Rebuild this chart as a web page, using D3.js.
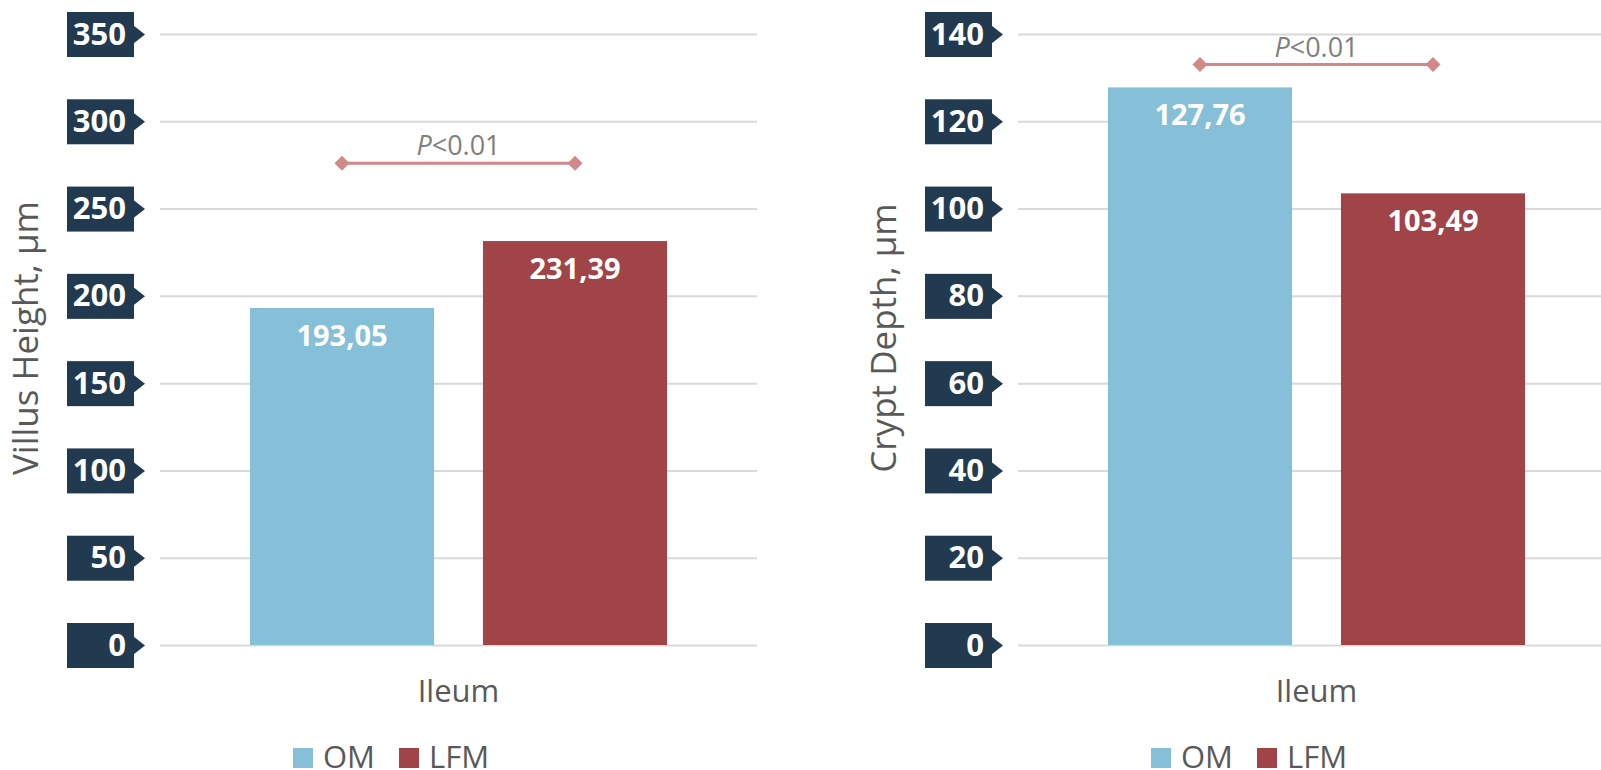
<!DOCTYPE html>
<html>
<head>
<meta charset="utf-8">
<script src="https://cdn.jsdelivr.net/npm/d3@7"></script>
<style>
  body { margin: 0; background: #fff; }
  svg { display: block; font-family: "Open Sans", "Noto Sans", sans-serif; }
</style>
</head>
<body>
<svg id="chart" width="1601" height="770"></svg>
<script>
// data
var series = ["OM", "LFM"];
var seriesColors = ["#85bfd8", "#a04448"];
var category = "Ileum";
var villusValues = [193.05, 231.39];
var villusLabels = ["193,05", "231,39"];
var villusTicks = [0, 50, 100, 150, 200, 250, 300, 350];
var cryptValues = [127.76, 103.49];
var cryptLabels = ["127,76", "103,49"];
var cryptTicks = [0, 20, 40, 60, 80, 100, 120, 140];
var pText = "<0.01";
var villusBracketAt = 276;
var cryptBracketAt = 133;

var svg = d3.select("#chart");

drawPanel(0, "Villus Height, µm", villusValues, villusLabels, villusTicks, villusBracketAt);
drawPanel(858, "Crypt Depth, µm", cryptValues, cryptLabels, cryptTicks, cryptBracketAt);

function drawPanel(offsetX, title, values, labels, ticks, bracketAt) {
    var plotLeft = 160, plotRight = 757, yTop = 34, yBottom = 645;
    var g = svg.append("g").attr("transform", "translate(" + offsetX + ",0)");

    var y = d3.scaleLinear()
        .domain([0, d3.max(ticks)])
        .range([yBottom, yTop]);
    var x = d3.scaleBand()
        .domain(series)
        .range([plotLeft, plotRight])
        .paddingInner(0.21)
        .paddingOuter(0.386);

    // gridlines
    var grid = g.append("g")
        .attr("transform", "translate(" + plotLeft + ",0)")
        .call(d3.axisLeft(y).tickValues(ticks).tickSize(-(plotRight - plotLeft)).tickFormat(""));
    grid.select(".domain").remove();
    grid.selectAll("line").attr("stroke", "#d9d9d9").attr("stroke-width", 2);

    // tick labels in dark boxes
    var axis = g.append("g")
        .attr("transform", "translate(" + plotLeft + ",0)")
        .call(d3.axisLeft(y).tickValues(ticks).tickSize(0).tickFormat(d3.format("d")));
    axis.select(".domain").remove();
    axis.selectAll(".tick").each(function () {
        var t = d3.select(this);
        t.insert("rect", "text")
            .attr("x", -93).attr("y", -22.5)
            .attr("width", 67).attr("height", 45)
            .attr("fill", "#213a4f");
        t.insert("path", "text")
            .attr("d", "M-26.5,-9L-15,0L-26.5,9Z")
            .attr("fill", "#213a4f");
    });
    axis.selectAll("text")
        .attr("x", -34).attr("dy", 10)
        .attr("fill", "#fff")
        .attr("font-size", 31)
        .attr("font-weight", "bold")
        .attr("font-family", "Open Sans, sans-serif")
        .attr("text-anchor", "end");

    // bars
    g.selectAll(".bar")
        .data(values)
        .enter().append("rect")
        .attr("class", "bar")
        .attr("x", function (d, i) { return x(series[i]); })
        .attr("y", function (d) { return y(d); })
        .attr("width", x.bandwidth())
        .attr("height", function (d) { return y(0) - y(d); })
        .attr("fill", function (d, i) { return seriesColors[i]; });

    g.selectAll(".barLabel")
        .data(values)
        .enter().append("text")
        .attr("class", "barLabel")
        .attr("x", function (d, i) { return x(series[i]) + x.bandwidth() / 2; })
        .attr("y", function (d) { return y(d) + 38; })
        .attr("text-anchor", "middle")
        .attr("fill", "#fff")
        .attr("font-size", 29)
        .attr("font-weight", "bold")
        .text(function (d, i) { return labels[i]; });

    // significance bracket
    var bx1 = x(series[0]) + x.bandwidth() / 2;
    var bx2 = x(series[1]) + x.bandwidth() / 2;
    var by = y(bracketAt);
    g.append("line")
        .attr("x1", bx1).attr("x2", bx2)
        .attr("y1", by).attr("y2", by)
        .attr("stroke", "#d08888").attr("stroke-width", 3);
    [bx1, bx2].forEach(function (bx) {
        g.append("path")
            .attr("d", "M" + bx + "," + (by - 7.5) + "l7.5,7.5l-7.5,7.5l-7.5,-7.5Z")
            .attr("fill", "#d08888");
    });
    var pt = g.append("text")
        .attr("x", (bx1 + bx2) / 2)
        .attr("y", by - 8)
        .attr("text-anchor", "middle")
        .attr("fill", "#7f7f7f")
        .attr("font-size", 27);
    pt.append("tspan").attr("font-style", "italic").text("P");
    pt.append("tspan").text(pText);

    // category label
    g.append("text")
        .attr("x", (plotLeft + plotRight) / 2)
        .attr("y", 702)
        .attr("text-anchor", "middle")
        .attr("fill", "#595959")
        .attr("font-size", 31)
        .text(category);

    // y title
    g.append("text")
        .attr("transform", "translate(38,338) rotate(-90)")
        .attr("text-anchor", "middle")
        .attr("fill", "#595959")
        .attr("font-size", 35)
        .text(title);

    // legend
    var legX = [293, 399];
    series.forEach(function (s, i) {
        g.append("rect")
            .attr("x", legX[i]).attr("y", 748)
            .attr("width", 20).attr("height", 20)
            .attr("fill", seriesColors[i]);
        g.append("text")
            .attr("x", legX[i] + 30).attr("y", 768)
            .attr("fill", "#595959")
            .attr("font-size", 31)
            .text(s);
    });
}
</script>
</body>
</html>
